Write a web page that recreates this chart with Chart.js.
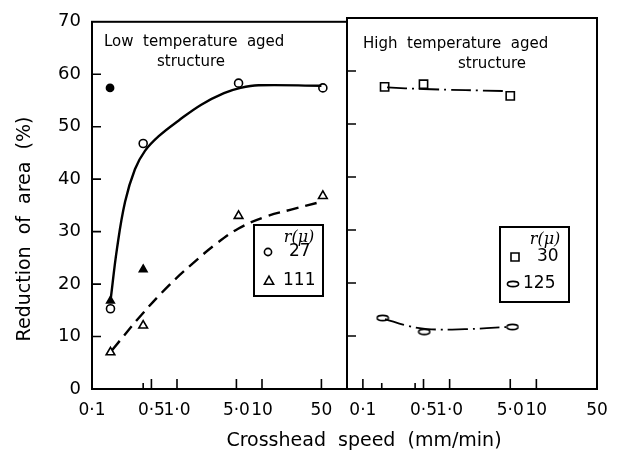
<!DOCTYPE html>
<html>
<head>
<meta charset="utf-8">
<script src="https://cdn.jsdelivr.net/npm/chart.js@4"></script>
<style>
  html, body { margin: 0; padding: 0; background: #fff; }
  #wrap { position: relative; width: 626px; height: 455px; }
  canvas { position: absolute; top: 0; }
  #left { left: 0; }
  #right { left: 300px; }
</style>
</head>
<body>
<div id="wrap">
  <canvas id="left" width="626" height="455"></canvas>
  <canvas id="right" width="326" height="455"></canvas>
</div>
<script>
// x axis ticks (crosshead speed, mm/min), shared by both panels
const speedTicks = [0.1, 0.5, 1, 5, 10, 50];
const speedTickLabels = ['0·1', '0·5', '1·0', '5·0', '10', '50'];
const minorTicksLow = [0.4];
const minorTicksHigh = [0.165, 0.4];
const reductionTicks = [10, 20, 30, 40, 50, 60];

// low temperature aged structure
const lowSpeed = [0.165, 0.4, 5.3, 52];
const low27 = [15.3, 46.8, 58.3, 57.4];
const low111 = [7.0, 12.1, 33.0, 36.8];
const lowFilledCircleSpeed = [0.163];
const lowFilledCircle = [57.4];
const lowFilledTriSpeed = [0.165, 0.4];
const lowFilledTri = [16.8, 22.8];

// hand drawn curves through the low temperature points
const fit27Speed = [0.165, 0.197, 0.245, 0.32, 0.42, 0.61, 1.05, 1.93, 3.57, 5.6, 9.1, 50];
const fit27Value = [16.8, 26.8, 35.7, 41.9, 45.4, 48.2, 51.2, 54.2, 56.4, 57.4, 57.9, 57.8];
const fit111Speed = [0.172, 0.39, 0.81, 1.5, 2.8, 5.3, 10.8, 22, 50];
const fit111Value = [7.4, 14.3, 19.8, 23.8, 27.5, 30.6, 32.8, 34.2, 35.7];

// high temperature aged structure
const high30Speed = [0.178, 0.5, 5.0];
const high30 = [57.0, 57.5, 55.3];
const high125Speed = [0.169, 0.51, 5.3];
const high125 = [13.4, 10.8, 11.7];
const fit30Speed = [0.19, 0.5, 4.7];
const fit30Value = [56.9, 56.6, 56.2];
const fit125Speed = [0.18, 0.33, 0.55, 1.5, 4.8];
const fit125Value = [13.2, 11.9, 11.3, 11.3, 11.7];

const FONT = 'DejaVu Sans';
const xy = (xs, ys) => xs.map((x, i) => ({ x: x, y: ys[i] }));

// small flat ellipse used as the marker for r = 125
const ellipse = document.createElement('canvas');
ellipse.width = 14;
ellipse.height = 8;
{
  const c = ellipse.getContext('2d');
  c.strokeStyle = '#000';
  c.lineWidth = 1.6;
  c.beginPath();
  c.ellipse(7, 4, 5.6, 2.6, 0, 0, Math.PI * 2);
  c.stroke();
}

// frame round the plot area plus tick marks pointing inwards
const frame = {
  id: 'frame',
  afterDatasetsDraw(chart, args, opts) {
    const { ctx, chartArea: a, scales: { x, y } } = chart;
    ctx.save();
    ctx.strokeStyle = '#000';
    ctx.lineWidth = 1.6;
    ctx.beginPath();
    speedTicks.forEach(v => {
      const px = x.getPixelForValue(v);
      if (px < a.left + 2 || px > a.right - 2) return;
      ctx.moveTo(px, a.bottom);
      ctx.lineTo(px, a.bottom - 10);
    });
    (opts.minor || []).forEach(v => {
      const px = x.getPixelForValue(v);
      ctx.moveTo(px, a.bottom);
      ctx.lineTo(px, a.bottom - 6);
    });
    reductionTicks.forEach(v => {
      const py = y.getPixelForValue(v);
      ctx.moveTo(a.left, py);
      ctx.lineTo(a.left + 9, py);
    });
    ctx.stroke();
    ctx.lineWidth = 2;
    ctx.strokeRect(a.left, a.top, a.right - a.left, a.bottom - a.top);
    ctx.restore();
  }
};

function drawGlyph(ctx, kind, x, y) {
  ctx.beginPath();
  if (kind === 'circle') {
    ctx.arc(x, y, 3.6, 0, Math.PI * 2);
    ctx.stroke();
  } else if (kind === 'triangle') {
    ctx.moveTo(x, y - 4.8);
    ctx.lineTo(x + 4.6, y + 3.2);
    ctx.lineTo(x - 4.6, y + 3.2);
    ctx.closePath();
    ctx.stroke();
  } else if (kind === 'rect') {
    ctx.rect(x - 4, y - 4, 8, 8);
    ctx.stroke();
  } else if (kind === 'ellipse') {
    ctx.drawImage(ellipse, x - 7, y - 4);
  }
}

// captions, legend boxes and axis titles
const notes = {
  id: 'notes',
  afterDraw(chart, args, opts) {
    const ctx = chart.ctx;
    ctx.save();
    ctx.fillStyle = '#000';
    ctx.strokeStyle = '#000';
    ctx.textBaseline = 'middle';
    (opts.texts || []).forEach(t => {
      ctx.font = t.font;
      ctx.textAlign = t.align || 'left';
      if (t.rotate) {
        ctx.save();
        ctx.translate(t.x, t.y);
        ctx.rotate(-Math.PI / 2);
        ctx.fillText(t.text, 0, 0);
        ctx.restore();
      } else {
        ctx.fillText(t.text, t.x, t.y);
      }
    });
    const L = opts.legend;
    if (L) {
      ctx.lineWidth = 2;
      ctx.strokeRect(L.x, L.y, L.w, L.h);
      ctx.font = 'italic 16px DejaVu Serif';
      ctx.textAlign = 'center';
      ctx.fillText('r(μ)', L.x + L.titleX, L.y + 13);
      ctx.lineWidth = 1.6;
      L.rows.forEach(r => {
        drawGlyph(ctx, r.glyph, L.x + r.gx, L.y + r.dy);
        ctx.font = '17px ' + FONT;
        ctx.textAlign = 'left';
        ctx.fillText(r.text, L.x + r.tx, L.y + r.dy);
      });
    }
    ctx.restore();
  }
};

function xScale(min, max) {
  return {
    type: 'logarithmic',
    min: min,
    max: max,
    afterFit: s => { s.height = 66; },
    afterBuildTicks: s => { s.ticks = speedTicks.map(v => ({ value: v })); },
    grid: { display: false, drawTicks: false },
    border: { display: false },
    ticks: {
      autoSkip: false,
      maxRotation: 0,
      padding: 11,
      color: '#000',
      font: { family: FONT, size: 17 },
      callback: (v, i) => speedTickLabels[i]
    }
  };
}

function yScale(show) {
  return {
    display: show,
    min: 0,
    max: 70,
    afterFit: s => { if (show) s.width = 92; },
    grid: { display: false, drawTicks: false },
    border: { display: false },
    ticks: { stepSize: 10, padding: 11, color: '#000', font: { family: FONT, size: 18 } }
  };
}

const curve = (data, dash, width) => ({
  data: data, borderColor: '#000', borderWidth: width, borderDash: dash,
  pointRadius: 0, tension: 0.4, fill: false
});
const marks = (data, style, radius, filled) => ({
  data: data, showLine: false, pointStyle: style, pointRadius: radius,
  pointBorderWidth: 1.6, pointBorderColor: '#000',
  pointBackgroundColor: filled ? '#000' : '#fff'
});

new Chart(document.getElementById('left'), {
  type: 'line',
  data: {
    datasets: [
      curve(xy(fit27Speed, fit27Value), [], 2.4),
      curve(xy(fit111Speed, fit111Value), [12, 7], 2.4),
      marks(xy(lowSpeed, low27), 'circle', 4, false),
      marks(xy(lowSpeed, low111), 'triangle', 5, false),
      marks(xy(lowFilledCircleSpeed, lowFilledCircle), 'circle', 3.6, true),
      marks(xy(lowFilledTriSpeed, lowFilledTri), 'triangle', 4.4, true)
    ]
  },
  options: {
    responsive: false,
    animation: false,
    layout: { padding: { left: 0, right: 279, top: 18, bottom: 0 } },
    plugins: {
      legend: { display: false },
      tooltip: { enabled: false },
      frame: { minor: minorTicksLow },
      notes: {
        texts: [
          { text: 'Low  temperature  aged', x: 104, y: 42, font: '15px ' + FONT },
          { text: 'structure', x: 191, y: 62, font: '15px ' + FONT, align: 'center' },
          { text: 'Crosshead  speed  (mm/min)', x: 364, y: 441, font: '19px ' + FONT, align: 'center' },
          { text: 'Reduction  of  area  (%)', x: 25, y: 229, font: '19px ' + FONT, align: 'center', rotate: true }
        ],
        legend: {
          x: 254, y: 225, w: 69, h: 71, titleX: 45,
          rows: [
            { glyph: 'circle', gx: 14, tx: 35, dy: 27, text: '27' },
            { glyph: 'triangle', gx: 15, tx: 29, dy: 56, text: '111' }
          ]
        }
      }
    },
    scales: { x: xScale(0.1, 100), y: yScale(true) }
  },
  plugins: [frame, notes]
});

new Chart(document.getElementById('right'), {
  type: 'line',
  data: {
    datasets: [
      curve(xy(fit30Speed, fit30Value), [20, 5, 2, 5], 1.8),
      curve(xy(fit125Speed, fit125Value), [20, 5, 2, 5], 1.8),
      marks(xy(high30Speed, high30), 'rect', 5.8, false),
      marks(xy(high125Speed, high125), ellipse, 4, false)
    ]
  },
  options: {
    responsive: false,
    animation: false,
    layout: { padding: { left: 47, right: 29, top: 18, bottom: 0 } },
    plugins: {
      legend: { display: false },
      tooltip: { enabled: false },
      frame: { minor: minorTicksHigh },
      notes: {
        texts: [
          { text: 'High  temperature  aged', x: 63, y: 44, font: '15px ' + FONT },
          { text: 'structure', x: 192, y: 64, font: '15px ' + FONT, align: 'center' }
        ],
        legend: {
          x: 200, y: 227, w: 69, h: 75, titleX: 45,
          rows: [
            { glyph: 'rect', gx: 15, tx: 37, dy: 30, text: '30' },
            { glyph: 'ellipse', gx: 13, tx: 23, dy: 57, text: '125' }
          ]
        }
      }
    },
    scales: { x: xScale(0.0656, 50), y: yScale(false) }
  },
  plugins: [frame, notes]
});
</script>
</body>
</html>
